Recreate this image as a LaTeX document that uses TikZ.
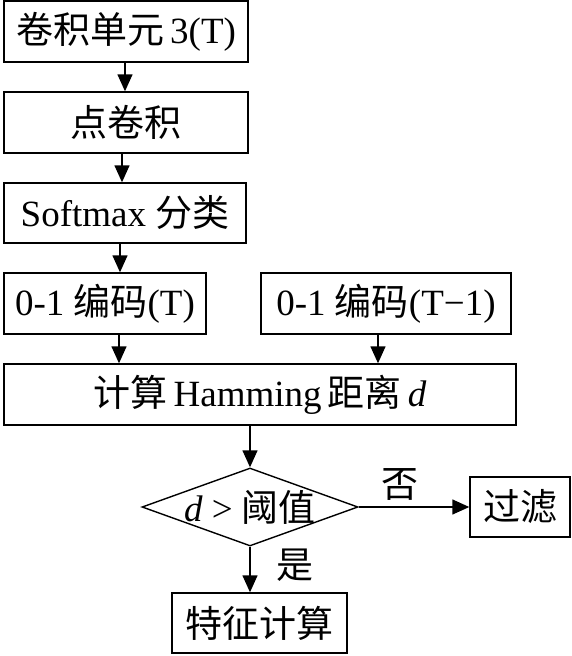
\documentclass[tikz,border=0pt]{standalone}
\usepackage{fontspec}
\setmainfont{Liberation Serif}
\newfontfamily\cjk{Noto Sans CJK SC}
\usetikzlibrary{arrows.meta,shapes.geometric}
\begin{document}
\begin{tikzpicture}[x=1pt,y=-1pt,
  line width=1.4pt,
  font=\fontsize{37}{42}\selectfont,
  boxnode/.style={draw,rectangle,inner sep=0pt,anchor=center},
  arr/.style={-{Triangle[length=17pt,width=15pt]}},
  lbl/.style={inner sep=0pt,anchor=center}]
\useasboundingbox (0,0) rectangle (571,656);
\node[boxnode,minimum width=244pt,minimum height=61pt] (b1) at (126,31.5) {{\cjk 卷积单元}\,3(T)};
\node[boxnode,minimum width=244pt,minimum height=61pt] (b2) at (126,122.5) {\cjk 点卷积};
\node[boxnode,minimum width=242pt,minimum height=60pt] (b3) at (125,213) {Softmax {\cjk 分类}};
\node[boxnode,minimum width=202pt,minimum height=61pt] (b4) at (105,303.5) {0-1 {\cjk 编码}(T)};
\node[boxnode,minimum width=250pt,minimum height=61pt] (b5) at (386,303.5) {0-1 {\cjk 编码}(T−1)};
\node[boxnode,minimum width=512pt,minimum height=61pt] (ham) at (260,394.5) {{\cjk 计算}\,Hamming\,{\cjk 距离}\,\textit{d}};
\node[draw,diamond,inner sep=0pt,aspect=2.77,minimum width=216pt,minimum height=78pt] (dec) at (250,507) {};
\node[lbl] (dectext) at (dec.center) {\textit{d} > {\cjk 阈值}};
\node[boxnode,minimum width=100pt,minimum height=60pt] (filt) at (520,507) {\cjk 过滤};
\node[boxnode,minimum width=175pt,minimum height=60pt] (feat) at (259.5,623) {\cjk 特征计算};
\node[lbl] (no) at (400,484) {\cjk 否};
\node[lbl] (yes) at (295,565) {\cjk 是};
\draw[arr] ([xshift=-1pt]b1.south) -- ([xshift=-1pt]b1.south |- b2.north);
\draw[arr] ([xshift=-4pt]b2.south) -- ([xshift=-4pt]b2.south |- b3.north);
\draw[arr] ([xshift=-5pt]b3.south) -- ([xshift=-5pt]b3.south |- b4.north);
\draw[arr] ([xshift=14pt]b4.south) -- ([xshift=14pt]b4.south |- ham.north);
\draw[arr] ([xshift=-8pt]b5.south) -- ([xshift=-8pt]b5.south |- ham.north);
\draw[arr] (dec.north |- ham.south) -- (dec.north);
\draw[arr] (dec.east) -- (filt.west);
\draw[arr] (dec.south) -- (dec.south |- feat.north);
\end{tikzpicture}
\end{document}
